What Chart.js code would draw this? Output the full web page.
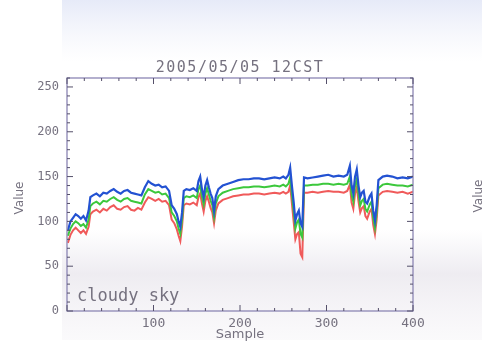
<!DOCTYPE html>
<html>
<head>
<meta charset="utf-8">
<script src="https://cdn.jsdelivr.net/npm/chart.js@4/dist/chart.umd.min.js"></script>
<style>
  html, body { margin: 0; padding: 0; background: #ffffff; }
  #wrap { width: 482px; height: 353px; }
</style>
</head>
<body>
<div id="wrap"><canvas id="graph1" width="482" height="353"></canvas></div>
<script>
const titleText = '2005/05/05 12CST';
const noteText = 'cloudy sky';

const samples = [1, 4, 7, 10, 13, 16, 19, 22, 25, 27, 30, 34, 38, 42, 46, 50, 54, 58, 62, 66,
  70, 74, 78, 82, 86, 90, 94, 98, 102, 106, 110, 114, 118, 121, 124, 127, 129, 131, 133, 135,
  138, 142, 146, 150, 152, 154, 156, 158, 160, 162, 164, 166, 168, 170, 172, 175, 180, 186, 192, 198,
  204, 210, 216, 222, 228, 234, 240, 246, 250, 253, 256, 258, 260, 262, 264, 266, 268, 270, 272, 274,
  278, 284, 290, 296, 302, 308, 314, 320, 324, 327, 329, 331, 333, 335, 337, 339, 341, 343, 345, 347,
  350, 352, 354, 356, 358, 360, 365, 370, 376, 382, 388, 394, 400];

const blueVals = [90, 100, 104, 108, 106, 103, 106, 101, 112, 127, 129, 131, 128, 132, 131, 134, 136, 133, 131, 134,
  135, 132, 131, 130, 129, 138, 145, 142, 140, 141, 138, 139, 134, 118, 114, 108, 100, 94, 110, 134,
  136, 135, 137, 134, 145, 150, 136, 127, 140, 146, 138, 131, 126, 112, 128, 136, 140, 142, 144, 146,
  147, 147, 148, 148, 147, 148, 149, 148, 150, 148, 152, 160, 140, 122, 101, 108, 112, 98, 94, 149,
  148, 149, 150, 151, 152, 150, 151, 150, 152, 162, 140, 131, 150, 158, 140, 127, 132, 134, 122, 120,
  128, 131, 112, 101, 118, 146, 150, 151, 150, 148, 149, 148, 150];

const greenVals = [84, 92, 97, 100, 98, 95, 97, 93, 102, 117, 120, 122, 119, 123, 122, 125, 127, 124, 122, 125,
  126, 123, 122, 121, 120, 130, 136, 134, 132, 133, 130, 131, 126, 110, 106, 100, 92, 86, 102, 126,
  128, 127, 129, 126, 136, 140, 128, 119, 131, 137, 130, 123, 118, 105, 120, 128, 132, 134, 136, 137,
  138, 138, 139, 139, 138, 139, 140, 139, 141, 139, 142, 149, 130, 112, 92, 99, 102, 86, 82, 140,
  140, 141, 141, 142, 142, 141, 142, 141, 142, 150, 130, 122, 140, 147, 131, 118, 123, 125, 114, 111,
  119, 122, 104, 93, 110, 137, 141, 142, 141, 140, 140, 139, 141];

const redVals = [76, 85, 90, 93, 90, 87, 90, 86, 94, 108, 111, 113, 110, 114, 112, 116, 118, 114, 113, 116,
  117, 113, 112, 115, 113, 121, 127, 125, 123, 125, 122, 123, 118, 102, 98, 91, 84, 78, 94, 118,
  120, 119, 121, 118, 127, 131, 120, 111, 123, 128, 122, 115, 110, 98, 112, 120, 124, 126, 128, 129,
  130, 130, 131, 131, 130, 131, 132, 131, 133, 131, 133, 140, 120, 100, 80, 86, 88, 64, 60, 132,
  132, 133, 132, 133, 134, 133, 133, 132, 134, 141, 121, 114, 131, 138, 122, 110, 115, 117, 106, 103,
  111, 114, 96, 86, 102, 129, 133, 134, 133, 132, 133, 131, 133];

const xTicks = [100, 200, 300, 400];
const yTicks = [0, 50, 100, 150, 200, 250];

function toPoints(vals) {
  return samples.map((s, i) => ({ x: s, y: vals[i] }));
}

const inkColor = '#75717f';
const frameColor = '#8c86b4';

const paperPlugin = {
  id: 'paper',
  beforeDraw(chart) {
    const c = chart.ctx;
    c.save();
    c.fillStyle = '#ffffff';
    c.fillRect(0, 0, chart.width, chart.height);
    let g = c.createLinearGradient(0, 0, 0, 62);
    g.addColorStop(0, '#e6eaf8');
    g.addColorStop(1, 'rgba(240,242,250,0)');
    c.fillStyle = g;
    c.fillRect(62, 0, chart.width - 62, 62);
    g = c.createLinearGradient(0, 230, 0, 340);
    g.addColorStop(0, 'rgba(238,236,242,0)');
    g.addColorStop(0.4, '#eeecf1');
    g.addColorStop(1, 'rgba(244,242,246,0.4)');
    c.fillStyle = g;
    c.fillRect(62, 230, chart.width - 62, 110);
    c.restore();
  },
  afterDraw(chart) {
    const c = chart.ctx;
    const a = chart.chartArea;
    const xs = chart.scales.x;
    const ys = chart.scales.y;
    c.save();
    // frame
    c.strokeStyle = frameColor;
    c.lineWidth = 1.3;
    c.strokeRect(a.left, a.top, a.right - a.left, a.bottom - a.top);
    // inward ticks
    c.strokeStyle = '#55506a';
    c.lineWidth = 1;
    c.beginPath();
    for (let v = 0; v <= 400; v += 20) {
      const px = xs.getPixelForValue(v);
      const len = v % 100 === 0 ? 6 : 3;
      c.moveTo(px, a.bottom); c.lineTo(px, a.bottom - len);
      c.moveTo(px, a.top); c.lineTo(px, a.top + len);
    }
    for (let v = 0; v <= 260; v += 10) {
      const py = ys.getPixelForValue(v);
      const len = v % 50 === 0 ? 6 : 3;
      c.moveTo(a.left, py); c.lineTo(a.left + len, py);
      c.moveTo(a.right, py); c.lineTo(a.right - len, py);
    }
    c.stroke();
    // texts
    c.fillStyle = inkColor;
    c.textAlign = 'center';
    c.textBaseline = 'middle';
    c.font = '15px "DejaVu Sans Mono"';
    c.letterSpacing = '1.5px';
    c.fillText(titleText, (a.left + a.right) / 2, 68);
    c.font = '13px "DejaVu Sans"';
    c.letterSpacing = '0px';
    c.fillText('Sample', (a.left + a.right) / 2, 335);
    c.textAlign = 'left';
    c.font = '17px "DejaVu Sans Mono"';
    c.fillText(noteText, a.left + 10, 297);
    c.textAlign = 'center';
    c.font = '12px "DejaVu Sans"';
    c.save();
    c.translate(20, 198);
    c.rotate(-Math.PI / 2);
    c.fillText('Value', 0, 0);
    c.restore();
    c.save();
    c.translate(479, 196);
    c.rotate(-Math.PI / 2);
    c.fillText('Value', 0, 0);
    c.restore();
    c.restore();
  }
};

document.addEventListener('DOMContentLoaded', function() {
  const ctx1 = document.getElementById('graph1').getContext('2d');
  new Chart(ctx1, {
    type: 'line',
    plugins: [paperPlugin],
    data: {
      datasets: [{
        label: 'blue',
        data: toPoints(blueVals),
        borderColor: '#2352d2',
        borderWidth: 2.2,
        pointRadius: 0,
        fill: false
      }, {
        label: 'green',
        data: toPoints(greenVals),
        borderColor: '#3cc83c',
        borderWidth: 2,
        pointRadius: 0,
        fill: false
      }, {
        label: 'red',
        data: toPoints(redVals),
        borderColor: '#f05a5a',
        borderWidth: 2,
        pointRadius: 0,
        fill: false
      }]
    },
    options: {
      responsive: false,
      animation: false,
      layout: { padding: { top: 78, right: 69, left: 0, bottom: 0 } },
      plugins: {
        legend: { display: false },
        tooltip: { enabled: false }
      },
      scales: {
        x: {
          type: 'linear',
          min: 0,
          max: 400,
          afterFit(scale) { scale.height = 42; },
          afterBuildTicks(scale) { scale.ticks = xTicks.map(v => ({ value: v })); },
          grid: { display: false, drawTicks: false },
          border: { display: false },
          ticks: {
            padding: 5,
            color: inkColor,
            font: { family: 'DejaVu Sans Mono', size: 13 },
            maxRotation: 0,
            autoSkip: false
          }
        },
        y: {
          min: 0,
          max: 260,
          afterFit(scale) { scale.width = 67; },
          afterBuildTicks(scale) { scale.ticks = yTicks.map(v => ({ value: v })); },
          grid: { display: false, drawTicks: false },
          border: { display: false },
          ticks: {
            padding: 8,
            color: inkColor,
            font: { family: 'DejaVu Sans Mono', size: 12 }
          }
        }
      }
    }
  });
});
</script>
</body>
</html>
